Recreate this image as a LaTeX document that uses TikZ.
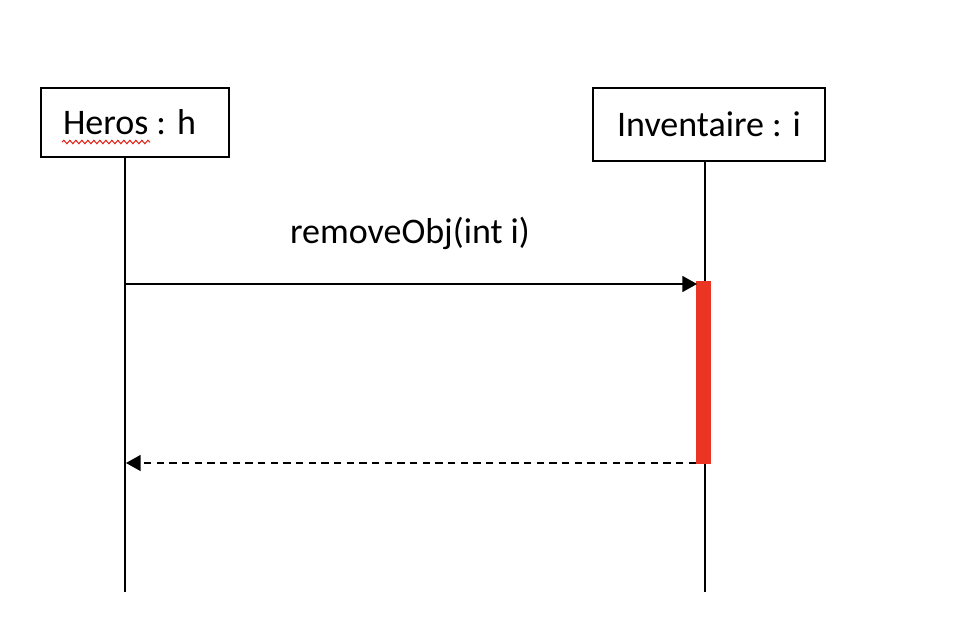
\documentclass[tikz,border=0pt]{standalone}
\usepackage{fontspec}
\setmainfont{Carlito}
\usepackage{tikz}
\usetikzlibrary{positioning, arrows.meta, decorations.pathmorphing}
\definecolor{actred}{RGB}{234, 52, 36}
\definecolor{spellred}{RGB}{225, 40, 30}

\begin{document}
\begin{tikzpicture}[x=0.75pt, y=-0.75pt, font=\fontsize{27}{31}\selectfont,
    >={Triangle[length=11pt, width=12pt]},
    obj/.style={draw, line width=1.1pt, inner sep=0pt},
    life/.style={line width=1.1pt},
    msg/.style={->, line width=1.1pt}]
  \useasboundingbox (0,0) rectangle (954,638);
  \node[obj, minimum width=141pt, minimum height=52pt, inner xsep=16.5pt,
        text width=108pt, align=flush left] (heros) at (135,122.5) {Heros : h};
  \node[obj, minimum width=174pt, minimum height=55pt] (inv) at (709,124.5) {Inventaire : i};
  \draw[spellred, line width=0.8pt, decorate,
        decoration={snake, amplitude=1.3pt, segment length=4.5pt}]
    (62,142) -- (150,142);
  \coordinate (hEnd) at (125,592);
  \coordinate (iEnd) at (705,592);
  \draw[life] (heros.south -| hEnd) -- (hEnd);
  \draw[life] (inv.south -| iEnd) -- (iEnd);
  \fill[actred] (696,281) rectangle (711,464);
  \coordinate (callA) at (125,284);
  \coordinate (callB) at (697,284);
  \coordinate (retA) at (696,463);
  \coordinate (retB) at (126,463);
  \draw[msg] (callA) -- (callB);
  \draw[msg, dash pattern=on 5.5pt off 4pt] (retA) -- (retB);
  \node (call) at (410,233) {removeObj(int i)};
\end{tikzpicture}
\end{document}
